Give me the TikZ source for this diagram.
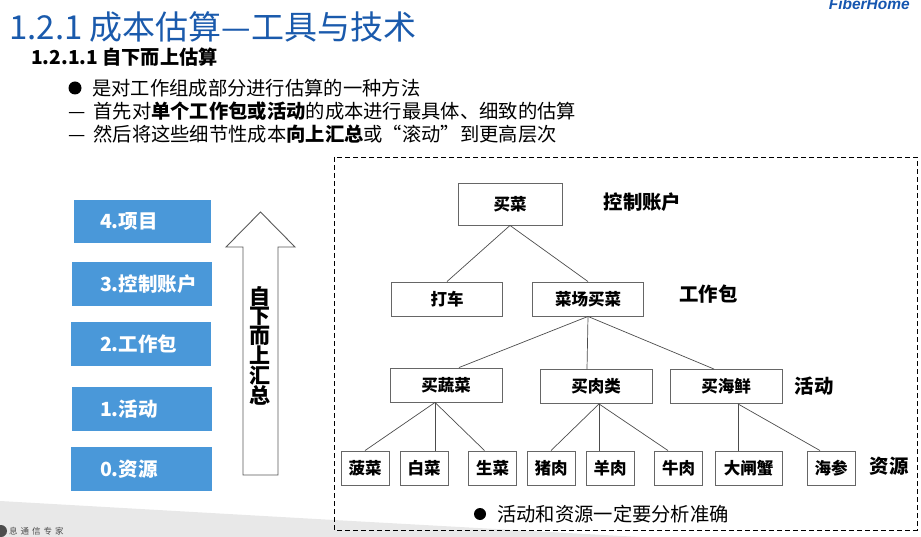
\documentclass[tikz,border=0pt]{standalone}
\usepackage{fontspec}
\setmainfont{Noto Sans CJK SC}
\newfontfamily\logofont{Liberation Sans}
\usepackage{xcolor}
\definecolor{levelblue}{HTML}{4A98D9}
\definecolor{titleblue}{HTML}{1A5AAC}
\definecolor{logoblue}{HTML}{1556B0}
\definecolor{footgrey}{HTML}{E8E8E8}

\begin{document}
\begin{tikzpicture}[
  x=1pt,y=-1pt,
  levelbox/.style 2 args={fill=levelblue,text=white,font=\fontsize{19.5}{19.5}\selectfont\bfseries,
    inner xsep=0pt,minimum height=44pt,text width=#1pt,align=left,
    execute at begin node={\hspace*{#2pt}}},
  treebox/.style={draw=black!60,line width=0.9pt,fill=white,minimum width=#1pt,inner sep=0pt,
    font=\fontsize{16.5}{16.5}\selectfont\bfseries},
  parent/.style={treebox=#1,minimum height=34pt},
  leaf/.style={treebox=#1,minimum height=34pt},
  tag/.style={font=\fontsize{19.4}{19.4}\selectfont\bfseries,inner sep=0pt},
  body/.style={font=\fontsize{19.3}{19.3}\selectfont,anchor=west,inner sep=0pt},
  dot/.style={circle,fill=black,inner sep=0pt,minimum size=#1pt},
  link/.style={draw=black!70,line width=0.7pt}
  ]
\useasboundingbox (0,0) rectangle (921,537);
\clip (0,0) rectangle (921,537);
% footer band
\fill[footgrey] (0,501) -- (334,520) -- (640,537) -- (0,537) -- cycle;
\fill[black!70] (1,531) circle (6);
\node[anchor=west,inner sep=0pt,font=\fontsize{8.5}{8.5}\selectfont,text=black!70] (slogan) at (9,531)
  {息\hspace{3pt}通\hspace{3pt}信\hspace{3pt}专\hspace{3pt}家};
% logo, cut by the page edge
\node[anchor=base east,inner sep=0pt,text=logoblue,font=\logofont\fontsize{15.5}{15.5}\selectfont\bfseries\itshape] (logo) at (910,10) {FiberHome};

% heading
\node[anchor=west,inner sep=0pt,text=titleblue,font=\fontsize{33}{33}\selectfont] (title) at (9,27) {1.2.1 成本估算—工具与技术};
\node[anchor=west,inner sep=0pt,font=\fontsize{19.2}{19.2}\selectfont\bfseries] (subtitle) at (31,57) {1.2.1.1 自下而上估算};
\node[dot=13] (d1) at (75,88) {};
\node[body] (line1) at (92,88) {是对工作组成部分进行估算的一种方法};
\node[body] (line2) at (68,111) {—\hspace{8pt}首先对\textbf{单个工作包或活动}的成本进行最具体、细致的估算};
\node[body] (line3) at (68,134) {—\hspace{8pt}然后将这些细节性成本\textbf{向上汇总}或“滚动”到更高层次};

% levels on the left
\node[levelbox={137}{26},minimum height=43pt] (L4) at (142.5,221.5) {4.项目};
\node[levelbox={140}{28}] (L3) at (142,284) {3.控制账户};
\node[levelbox={140}{29}] (L2) at (141,344) {2.工作包};
\node[levelbox={140}{28}] (L1) at (142,409) {1.活动};
\node[levelbox={141}{29}] (L0) at (141.5,469) {0.资源};

% big arrow
\draw[draw=black!65,line width=0.9pt,fill=white] (243,475) -- (243,247) -- (226,247) -- (260.5,212)
  -- (295,247) -- (278,247) -- (278,475) -- cycle;
\node[inner sep=0pt,align=center,font=\fontsize{21}{19.3}\selectfont\bfseries] (up) at (260,346)
  {自\\下\\而\\上\\汇\\总};

% dashed frame
\draw[dash pattern=on 5pt off 3pt,line width=0.8pt] (334,157) rectangle (917,530);

% tree
\node[treebox=104,minimum height=42pt] (buy) at (510,204) {买菜};
\node[parent=111] (taxi) at (447,299) {打车};
\node[parent=111] (market) at (588,299) {菜场买菜};
\node[parent=112] (veg) at (446,385) {买蔬菜};
\node[parent=112] (meat) at (596,386.5) {买肉类};
\node[parent=112] (sea) at (726,386.5) {买海鲜};
\node[leaf=48] (spinach) at (365,468) {菠菜};
\node[leaf=48] (cabbage) at (424,468) {白菜};
\node[leaf=48] (lettuce) at (492.5,468) {生菜};
\node[leaf=48] (pork) at (551,468) {猪肉};
\node[leaf=48] (mutton) at (610,468) {羊肉};
\node[leaf=48] (beef) at (678.5,468) {牛肉};
\node[leaf=67] (crab) at (748.5,468) {大闸蟹};
\node[leaf=48] (cucumber) at (831,468) {海参};

\draw[link] (buy.south) -- (taxi.north);
\draw[link] (buy.south) -- (market.north);
\draw[link] (market.south) -- ([xshift=13pt]veg.north);
\draw[link] (market.south) -- ([xshift=-9pt]meat.north);
\draw[link] (market.south) -- ([xshift=-12pt]sea.north);
\coordinate (vegfoot) at ([xshift=-11pt]veg.south);
\coordinate (meatfoot) at ([xshift=3pt]meat.south);
\coordinate (seafoot) at ([xshift=12pt]sea.south);
\draw[link] (vegfoot) -- (spinach.north);
\draw[link] (vegfoot) -- ([xshift=11pt]cabbage.north);
\draw[link] (vegfoot) -- ([xshift=-8pt]lettuce.north);
\draw[link] (meatfoot) -- (pork.north);
\draw[link] (meatfoot) -- ([xshift=-11pt]mutton.north);
\draw[link] (meatfoot) -- ([xshift=-10.5pt]beef.north);
\draw[link] (seafoot) -- ([xshift=-10.5pt]crab.north);
\draw[link] (seafoot) -- ([xshift=-11pt]cucumber.north);

% level names beside the tree
\node[tag] (tagaccount) at (642.5,202) {控制账户};
\node[tag] (tagpackage) at (708.5,294) {工作包};
\node[tag] (tagactivity) at (814,386) {活动};
\node[tag] (tagresource) at (889,466) {资源};

\node[dot=12] (d2) at (480,514) {};
\node[body] (note) at (497,514) {活动和资源一定要分析准确};
\end{tikzpicture}
\end{document}
